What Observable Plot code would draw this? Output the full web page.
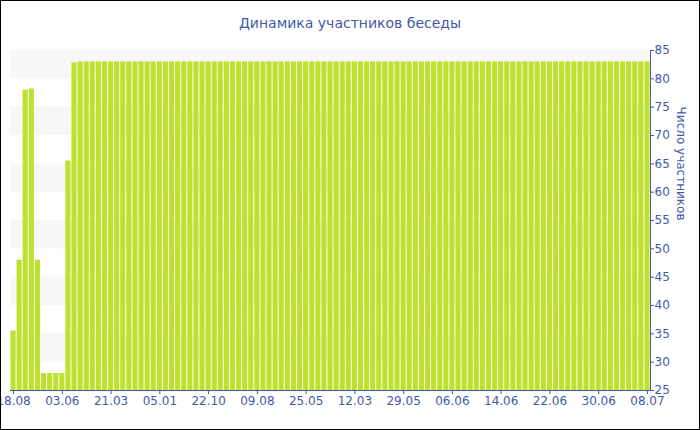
<!DOCTYPE html>
<html>
<head>
<meta charset="utf-8">
<script src="https://cdn.jsdelivr.net/npm/d3@7"></script>
<script src="https://cdn.jsdelivr.net/npm/@observablehq/plot@0.6"></script>
<style>
  html, body { margin: 0; padding: 0; background: #fff; }
  #chart {
    position: relative;
    width: 700px; height: 430px;
    box-sizing: border-box;
    border: 1px solid #000;
    overflow: hidden;
    font-family: "DejaVu Sans", Verdana, sans-serif;
  }
  #title {
    height: 40px;
    line-height: 44px;
    text-align: center;
    font-size: 14px;
    color: #3f5aa6;
  }
  #chart svg { display: block; }
</style>
</head>
<body>
<div id="chart">
  <div id="title">Динамика участников беседы</div>
</div>
<script>
// Number of chat members at each snapshot (one bar per snapshot)
const members = [
  35.5, 48, 78, 78.2, 48, 28, 28, 28, 28, 65.5, 82.8,
  83, 83, 83, 83, 83, 83, 83, 83, 83, 83,
  83, 83, 83, 83, 83, 83, 83, 83, 83, 83,
  83, 83, 83, 83, 83, 83, 83, 83, 83, 83,
  83, 83, 83, 83, 83, 83, 83, 83, 83, 83,
  83, 83, 83, 83, 83, 83, 83, 83, 83, 83,
  83, 83, 83, 83, 83, 83, 83, 83, 83, 83,
  83, 83, 83, 83, 83, 83, 83, 83, 83, 83,
  83, 83, 83, 83, 83, 83, 83, 83, 83, 83,
  83, 83, 83, 83, 83, 83, 83, 83, 83, 83,
  83, 83, 83, 83
];

// Snapshot dates shown under every eighth bar
const dateLabels = [
  "18.08", "03.06", "21.03", "05.01", "22.10", "09.08", "25.05",
  "12.03", "29.05", "06.06", "14.06", "22.06", "30.06", "08.07"
];
const labelStep = 8;

// Y axis ticks and alternating background stripes
const yTicks = [25, 30, 35, 40, 45, 50, 55, 60, 65, 70, 75, 80, 85];
const stripeStarts = [30, 40, 50, 60, 70, 80];
const stripeHeight = 5;
const yAxisTitle = "Число участников";

const rows = members.map((v, i) => ({i, v}));
const tickIndex = dateLabels.map((_, k) => k * labelStep);

const blue = "#3f5aa6";
const barFill = "#bde12f";

const plot = Plot.plot({
  width: 698,
  height: 388,
  marginTop: 9,
  marginBottom: 39,
  marginLeft: 9,
  marginRight: 49,
  style: {fontFamily: "'DejaVu Sans', Verdana, sans-serif", fontSize: "12px", color: blue, background: "transparent"},
  x: {type: "band", domain: rows.map(d => d.i), padding: 0, round: false, axis: null},
  y: {domain: [25, 85], axis: null},
  marks: [
    Plot.rect(stripeStarts, {y1: d => d, y2: d => d + stripeHeight, fill: "#f7f7f7"}),
    Plot.barY(rows, {x: "i", y1: 25, y2: "v", fill: barFill, insetLeft: 0.5, insetRight: 0.5}),
    Plot.axisX({
      ticks: tickIndex,
      tickFormat: i => dateLabels[i / labelStep],
      tickSize: 4,
      tickPadding: 2,
      stroke: blue,
      fill: blue,
      label: null
    }),
    Plot.axisY({
      anchor: "right",
      ticks: yTicks,
      tickSize: 3,
      tickPadding: 1,
      stroke: blue,
      fill: blue,
      label: null
    }),
    Plot.frame({anchor: "bottom", stroke: blue}),
    Plot.frame({anchor: "right", stroke: blue}),
    Plot.text([yAxisTitle], {frameAnchor: "right", rotate: 90, dx: 30, fill: blue, fontSize: 12})
  ]
});

document.getElementById("chart").appendChild(plot);
</script>
</body>
</html>
